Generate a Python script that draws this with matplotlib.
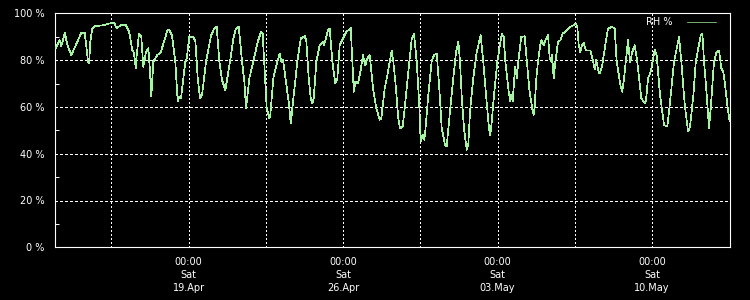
import matplotlib
matplotlib.use("Agg")
import matplotlib.pyplot as plt
from matplotlib.ticker import FixedLocator
from datetime import datetime, timedelta

# ---------------------------------------------------------------
# Data: hours since 13 Apr 00:00, RH in %
# ---------------------------------------------------------------
START = datetime(2014, 4, 13, 0, 0)

HOURS = [-0.5, 3.9, 5.7, 9.4, 12.2, 16.5, 27.4, 31.1, 33.9, 34.7, 35.8, 37.2, 39.4, 43.1,
         52.1, 57.5, 63.0, 65.9, 70.2, 75.7, 79.3, 82.9, 84.7, 86.6, 87.6, 90.1, 92.6, 94.8,
         97.4, 100.3, 102.1, 103.5, 105.7, 110.0, 113.7, 117.3, 120.9, 123.1, 126.0, 129.6,
         131.5, 132.2, 134.0, 135.8, 140.5, 142.0, 144.8, 149.2, 151.4, 154.0, 156.5, 158.7,
         163.0, 168.4, 172.0, 174.6, 177.5, 180.4, 182.9, 184.0, 185.5, 189.1, 192.7, 195.6,
         198.6, 202.2, 204.7, 206.5, 210.1, 214.4, 219.2, 222.8, 224.6, 226.8, 229.0, 231.8,
         232.9, 236.2, 239.1, 243.1, 244.9, 246.7, 247.8, 251.4, 253.3, 255.1, 255.8, 258.4,
         262.3, 266.0, 270.3, 272.1, 274.7, 276.9, 278.6, 280.1, 283.0, 286.6, 290.2, 291.3,
         295.7, 297.5, 300.4, 303.6, 305.8, 308.4, 312.0, 315.6, 320.4, 321.8, 323.7, 325.4,
         328.3, 331.2, 333.7, 336.2, 338.4, 341.0, 342.1, 344.6, 348.2, 351.9, 353.6, 357.3,
         360.9, 364.9, 366.7, 369.6, 372.1, 374.0, 376.9, 379.4, 384.1, 386.7, 389.2, 392.1,
         394.9, 396.4, 398.6, 400.1, 401.1, 404.7, 408.4, 410.9, 413.9, 416.7, 419.3, 422.9,
         424.7, 428.3, 431.9, 434.9, 437.4, 439.2, 441.0, 443.5, 446.5, 448.2, 450.1, 453.6,
         457.4, 461.7, 464.5, 467.5, 470.7, 471.8, 472.9, 476.2, 479.8, 482.7, 484.6, 486.7,
         488.5, 492.2, 493.9, 495.0, 496.5, 498.7, 499.3, 501.2, 502.2, 505.8, 509.5, 512.0,
         514.5, 518.2, 519.3, 520.4, 522.2, 524.0, 526.5, 527.6, 530.2, 532.0, 534.9, 536.8,
         538.5, 539.3, 541.1, 542.9, 545.8, 548.3, 550.9, 555.6, 559.2, 562.8, 565.3, 566.8,
         568.3, 570.0, 571.9, 573.7, 576.2, 580.9, 583.5, 585.7, 587.1, 590.0, 591.1, 593.6,
         597.2, 600.1, 604.5, 607.4, 609.6, 614.0, 615.7, 617.6, 621.9, 624.1, 626.6, 629.2,
         632.0, 636.4, 640.1, 641.5, 643.7, 646.6, 650.9, 653.1, 656.7, 661.1, 664.7, 668.4,
         672.0, 677.4, 679.9, 683.6, 687.2, 689.4, 693.0, 695.6, 701.0, 702.8, 704.6, 707.5,
         710.0, 711.9, 715.4, 718.3, 720.9, 723.4, 725.5, 727.1, 729.9, 732.3]

RH = [85.2, 88.5, 86.0, 91.7, 86.6, 82.1, 91.7, 91.7, 82.0, 79.3, 78.5, 88.0, 93.7, 94.6,
      94.9, 95.6, 96.0, 93.5, 95.0, 95.0, 92.2, 84.3, 83.0, 76.4, 82.0, 91.3, 90.0, 77.1,
      83.0, 85.1, 75.0, 64.4, 79.3, 82.1, 83.4, 87.8, 92.8, 92.8, 90.6, 79.3,
      66.5, 62.3, 64.5, 63.8, 79.3, 80.7, 89.9, 89.9, 88.1, 72.2, 63.7, 65.1,
      79.3, 90.4, 93.5, 94.2, 79.3, 71.5, 68.6, 67.2, 70.7, 79.3, 89.2, 93.5,
      94.2, 79.3, 70.7, 59.4, 72.2, 79.3, 87.8, 92.0, 91.3, 75.0, 59.4, 55.1,
      56.5, 72.2, 77.1, 82.8, 79.3, 80.0, 77.1, 66.5, 60.9, 53.0, 55.1, 65.1,
      79.3, 89.2, 90.3, 88.1, 72.2, 63.7, 61.5, 63.7, 79.3, 86.4, 87.8, 86.4,
      92.8, 93.5, 79.3, 70.0, 72.2, 86.4, 89.2, 92.0, 93.7, 82.1, 66.5, 70.7,
      70.0, 75.7, 82.1, 77.8, 80.7, 82.1, 78.0, 67.9, 59.4, 54.5, 55.1, 67.9,
      75.0, 84.1, 79.3, 67.9, 55.1, 50.9, 51.6, 60.9, 79.3, 89.2, 91.3, 79.3,
      60.9, 45.2, 48.1, 46.0, 48.1, 65.1, 79.3, 82.1, 82.8, 67.9, 50.9, 43.8,
      43.2, 58.0, 72.2, 83.5, 87.8, 79.3, 65.1, 50.9, 41.7, 43.8, 58.0, 72.2,
      83.5, 90.6, 79.3, 65.1, 50.9, 48.1, 50.2, 65.1, 79.3, 86.4, 91.3, 89.9,
      79.3, 66.5, 62.3, 65.1, 62.3, 75.0, 77.1, 72.2, 77.9, 89.9, 90.2, 79.3,
      67.9, 58.0, 56.6, 60.1, 72.2, 79.3, 86.4, 88.5, 86.4, 88.5, 90.6, 80.7,
      79.3, 82.1, 72.2, 79.3, 87.8, 88.5, 91.3, 92.8, 94.2, 94.9, 95.6, 94.2,
      86.4, 83.5, 86.4, 87.4, 84.1, 84.1, 80.3, 76.1, 80.3, 75.0, 74.3, 77.1,
      86.4, 93.5, 94.2, 93.5, 79.3, 68.6, 66.5, 72.2, 88.5, 79.3, 83.5, 86.4,
      79.3, 63.7, 61.5, 62.9, 72.2, 75.0, 84.3, 82.1, 65.1, 52.3, 51.6, 65.1,
      79.3, 89.9, 79.3, 60.9, 49.5, 51.6, 65.1, 79.3, 90.6, 91.3, 79.3, 65.1,
      50.9, 59.4, 79.3, 83.5, 84.1, 76.4, 75.0, 70.7, 60.9, 54.0]

Y_TICKS = [0, 20, 40, 60, 80, 100]
Y_LABELS = ['0 %', '20 %', '40 %', '60 %', '80 %', '100 %']
LABEL_DAYS = [datetime(2014, 4, 19), datetime(2014, 4, 26), datetime(2014, 5, 3), datetime(2014, 5, 10)]

FG = 'white'
LINE_COLOR = '#a4f4a4'

# ---------------------------------------------------------------
# Figure
# ---------------------------------------------------------------
plt.rcParams['font.family'] = ['DejaVu Sans']
fig = plt.figure(figsize=(7.5, 3.0), dpi=100, facecolor='black')
ax = fig.add_axes([55.3 / 750, 1 - 247.3 / 300, (729.7 - 55.3) / 750, (247.3 - 13.3) / 300])
ax.set_facecolor('black')

times = [START + timedelta(hours=h) for h in HOURS]
ax.plot(times, RH, color=LINE_COLOR, lw=0.5, antialiased=False, label='RH %', zorder=3)

ax.set_xlim(START - timedelta(hours=0.9), START + timedelta(hours=732.5))
ax.set_ylim(0, 100)

# x ticks every 3.5 days, labels only at midnight
grid_days = [LABEL_DAYS[0] - timedelta(hours=84) + timedelta(hours=84 * i) for i in range(8)]
ax.set_xticks(grid_days)
ax.set_xticklabels([d.strftime('%H:%M\n%a\n%d.%b') if d in LABEL_DAYS else '' for d in grid_days],
                   linespacing=1.35)

ax.set_yticks(Y_TICKS)
ax.set_yticklabels(Y_LABELS)
ax.yaxis.set_minor_locator(FixedLocator([10, 30, 50, 70, 90]))

ax.tick_params(axis='both', which='both', colors=FG, labelcolor=FG, labelsize=7, direction='in')
ax.tick_params(axis='y', which='major', length=0, pad=8)
ax.tick_params(axis='y', which='minor', length=3, width=0.7)
ax.tick_params(axis='x', which='major', length=0, pad=7)

for s in ax.spines.values():
    s.set_color(FG)
    s.set_linewidth(0.8)

for v in Y_TICKS[1:-1]:
    ax.axhline(v, color=FG, lw=0.6, ls=(0, (3, 3)), antialiased=False, zorder=1)
for d in grid_days:
    ax.axvline(d, color=FG, lw=0.6, ls=(0, (2, 2.5)), antialiased=False, zorder=1)

leg = ax.legend(loc='upper right', bbox_to_anchor=(716 / 750, 1 - 17 / 300),
                bbox_transform=fig.transFigure, frameon=False, markerfirst=False,
                handlelength=3.0, handletextpad=1.5, borderpad=0, borderaxespad=0,
                fontsize=7)
for t in leg.get_texts():
    t.set_color(FG)

fig.savefig('out.png', dpi=100, facecolor='black')
